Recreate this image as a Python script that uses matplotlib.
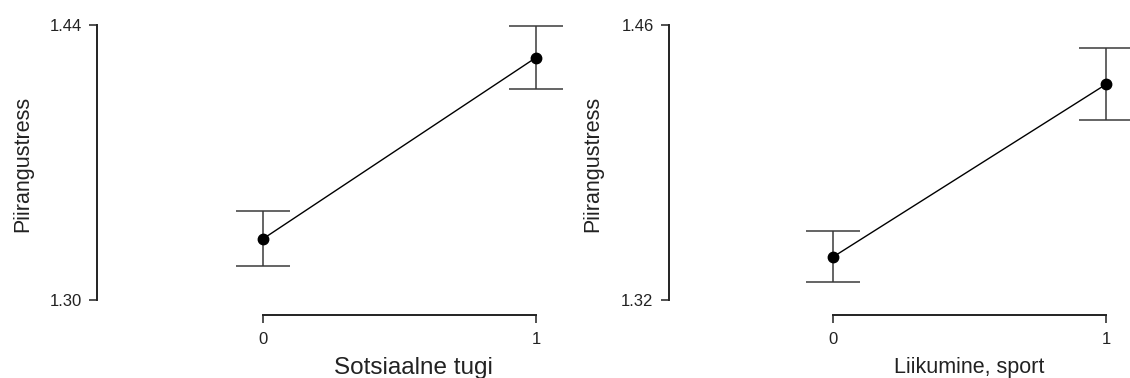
import matplotlib
matplotlib.use("Agg")
import matplotlib.pyplot as plt

plt.rcParams['font.family'] = ['Liberation Sans', 'DejaVu Sans']

# group means with lower / upper interval bounds
levels = [0, 1]
support_mean = [1.331, 1.4234]
support_lo = [1.3175, 1.4073]
support_hi = [1.3453, 1.4397]
sport_mean = [1.3420, 1.4298]
sport_lo = [1.3292, 1.4115]
sport_hi = [1.3553, 1.4485]

y_label = "Piirangustress"
support_label = "Sotsiaalne tugi"
sport_label = "Liikumine, sport"
support_yticks = [1.30, 1.44]
sport_yticks = [1.32, 1.46]

W, H = 1130, 378
fig = plt.figure(figsize=(W / 100, H / 100), dpi=100)


def descriptives(rect, mean, lo, hi, yticks, ylim, xlim, xlabel, xlab_x, xlab_size, ylab_x):
    ax = fig.add_axes(rect)
    yerr = [[m - l for m, l in zip(mean, lo)], [h - m for m, h in zip(mean, hi)]]
    ax.errorbar(levels, mean, yerr=yerr, fmt='none', ecolor='#3a3a3a',
                elinewidth=1.1, capsize=19.5, capthick=1.1, clip_on=False, zorder=2)
    ax.plot(levels, mean, color='black', lw=1.0, zorder=3, clip_on=False)
    ax.plot(levels, mean, 'o', color='black', ms=7.5, zorder=4, clip_on=False)

    ax.set_xlim(*xlim)
    ax.set_ylim(*ylim)
    ax.set_xticks(levels)
    ax.set_xticklabels([str(v) for v in levels])
    ax.set_yticks(yticks)
    ax.set_yticklabels([f"{v:.2f}" for v in yticks])

    for side in ('top', 'right'):
        ax.spines[side].set_visible(False)
    for side in ('left', 'bottom'):
        ax.spines[side].set_linewidth(1.4)
        ax.spines[side].set_color('#222222')
    ax.spines['left'].set_bounds(yticks[0], yticks[-1])
    ax.spines['bottom'].set_bounds(levels[0], levels[-1])

    ax.tick_params(axis='both', length=5.8, width=1.1, color='#222222',
                   labelsize=12, labelcolor='#222222')
    ax.tick_params(axis='y', pad=5.3)
    ax.tick_params(axis='x', pad=6.5)

    ax.set_xlabel(xlabel, fontsize=xlab_size, color='#222222', va='top')
    ax.xaxis.set_label_coords(xlab_x, -0.145)
    ax.set_ylabel(y_label, fontsize=15.5, color='#222222')
    ax.yaxis.set_label_coords(ylab_x, 0.52)
    return ax


# left panel: y spine at 97 px, x = 0 / 1 at 262.7 / 536 px
descriptives([97 / W, (H - 315) / H, (560 - 97) / W, 290 / H],
             support_mean, support_lo, support_hi, support_yticks,
             (1.29236, 1.44), (-0.606, 1.088), support_label, 0.683, 17.5, -0.138)

# right panel: y spine at 669 px, x = 0 / 1 at 833.3 / 1106 px
descriptives([669 / W, (H - 315) / H, (1125 - 669) / W, 290 / H],
             sport_mean, sport_lo, sport_hi, sport_yticks,
             (1.31236, 1.46), (-0.6025, 1.0696), sport_label, 0.658, 15.5, -0.145)

fig.savefig("out.png", dpi=100, facecolor='white')
